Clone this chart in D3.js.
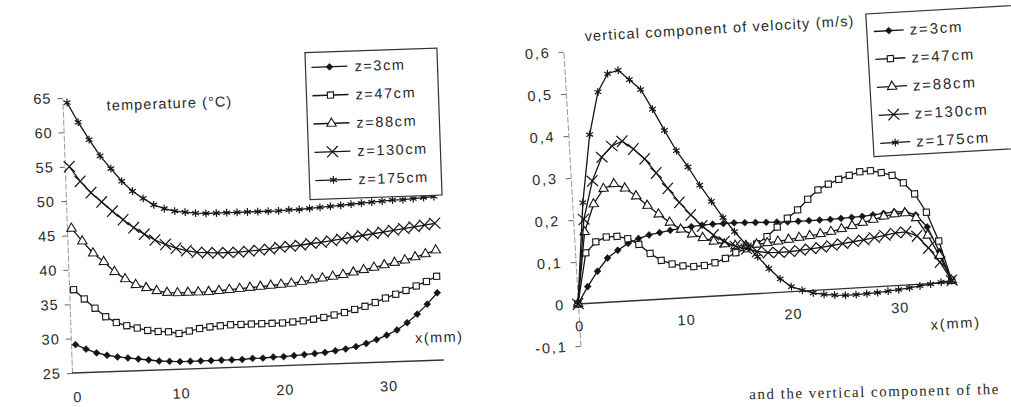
<!DOCTYPE html>
<html>
<head>
<meta charset="utf-8">
<script src="https://cdn.jsdelivr.net/npm/d3@7"></script>
<style>
  body { margin: 0; background: #fff; }
  text { font-family: "Liberation Sans", Arial, sans-serif; fill: #2a2a2a; }
</style>
</head>
<body>
<svg id="fig" width="1011" height="407"></svg>
<script>
// distance from the wall, mm
var xMm = [0,1,2,3,4,5,6,7,8,9,10,11,12,13,14,15,16,17,18,19,20,21,22,23,24,25,26,27,28,29,30,31,32,33,34,35];

var seriesNames = ["z=3cm", "z=47cm", "z=88cm", "z=130cm", "z=175cm"];
var markerKinds = ["diamond", "square", "triangle", "times", "asterisk"];

// temperature (°C)
var tempZ3   = [29.1,28.4,27.8,27.4,27.1,26.9,26.7,26.5,26.3,26.2,26.1,26.1,26.1,26.1,26.1,26.1,26.1,26.2,26.2,26.3,26.3,26.4,26.5,26.6,26.7,26.9,27.1,27.4,27.8,28.3,28.9,29.6,30.6,31.8,33.2,34.8];
var tempZ47  = [37.1,35.7,34.3,33.0,32.1,31.6,31.2,30.8,30.6,30.5,30.2,30.5,30.8,31.0,31.1,31.2,31.2,31.2,31.2,31.2,31.2,31.3,31.4,31.6,31.8,32.1,32.4,32.8,33.2,33.7,34.3,34.8,35.3,35.9,36.5,37.2];
var tempZ88  = [46.0,44.1,42.3,41.0,39.5,38.4,37.5,37.0,36.5,36.2,36.1,36.1,36.1,36.1,36.2,36.3,36.4,36.5,36.6,36.7,36.8,36.9,37.1,37.3,37.5,37.7,37.9,38.2,38.5,38.8,39.1,39.4,39.7,40.1,40.5,41.0];
var tempZ130 = [55.0,52.8,51.1,49.7,48.3,47.0,45.8,44.8,43.9,43.2,42.6,42.2,41.9,41.8,41.7,41.7,41.7,41.8,41.9,42.0,42.2,42.3,42.4,42.6,42.7,42.9,43.1,43.3,43.5,43.7,43.9,44.1,44.3,44.5,44.7,44.9];
var tempZ175 = [64.3,61.4,58.8,56.4,54.5,52.6,51.1,50.0,49.0,48.4,48.0,47.8,47.6,47.5,47.5,47.5,47.5,47.5,47.5,47.5,47.5,47.6,47.6,47.7,47.8,47.9,48.0,48.1,48.2,48.3,48.4,48.5,48.5,48.6,48.7,48.8];

// vertical component of velocity (m/s)
var velZ3   = [0,0.040,0.075,0.105,0.122,0.137,0.147,0.154,0.158,0.162,0.166,0.168,0.170,0.171,0.171,0.171,0.170,0.169,0.168,0.167,0.166,0.166,0.166,0.166,0.166,0.167,0.168,0.169,0.171,0.173,0.175,0.174,0.165,0.135,0.075,0.005];
var velZ47  = [0,0.120,0.145,0.155,0.155,0.148,0.133,0.110,0.092,0.082,0.076,0.073,0.074,0.079,0.088,0.100,0.108,0.118,0.134,0.155,0.175,0.193,0.217,0.238,0.250,0.260,0.268,0.275,0.276,0.270,0.262,0.243,0.215,0.170,0.100,0.005];
var velZ88  = [0,0.170,0.235,0.270,0.280,0.268,0.248,0.224,0.202,0.181,0.163,0.150,0.140,0.130,0.122,0.117,0.115,0.117,0.119,0.121,0.124,0.127,0.130,0.133,0.137,0.142,0.148,0.154,0.160,0.166,0.170,0.171,0.158,0.115,0.065,0.005];
var velZ130 = [0,0.200,0.290,0.345,0.370,0.380,0.360,0.335,0.300,0.262,0.227,0.196,0.168,0.145,0.128,0.116,0.108,0.100,0.096,0.095,0.095,0.097,0.099,0.101,0.104,0.107,0.110,0.113,0.117,0.121,0.125,0.126,0.115,0.085,0.050,0.005];
var velZ175 = [0,0.240,0.400,0.500,0.542,0.549,0.525,0.500,0.452,0.400,0.350,0.310,0.265,0.225,0.185,0.150,0.118,0.088,0.058,0.032,0.012,0.002,-0.006,-0.011,-0.014,-0.016,-0.016,-0.015,-0.014,-0.012,-0.010,-0.007,-0.004,-0.001,0.002,0.004];

var tempTicks = [25,30,35,40,45,50,55,60,65];
var velTicks = [-0.1,0,0.1,0.2,0.3,0.4,0.5,0.6];
var velTickLabels = ["-0,1","0","0,1","0,2","0,3","0,4","0,5","0,6"];
var xTicks = [0,10,20,30];

var svg = d3.select("#fig");
var ink = "#151515";

var symbolTypes = {
  diamond: d3.symbolDiamond2, square: d3.symbolSquare, triangle: d3.symbolTriangle,
  times: d3.symbolTimes, asterisk: d3.symbolAsterisk
};
var symbolSizes = { diamond: 30, square: 38, triangle: 38, times: 80, asterisk: 42 };

function styleMarker(sel, kind) {
  if (kind == "diamond") sel.attr("fill", ink).attr("stroke", ink).attr("stroke-width", 0.6);
  else if (kind == "square" || kind == "triangle") sel.attr("fill", "#fff").attr("stroke", ink).attr("stroke-width", 1.1);
  else sel.attr("fill", "none").attr("stroke", ink).attr("stroke-width", 1.2);
}

function drawSeries(g, x, y, values, kind) {
  var pts = xMm.map(function(d, i) { return [d, values[i]]; });
  g.append("path")
    .attr("d", d3.line().x(function(d){ return x(d[0]); }).y(function(d){ return y(d[1]); })(pts))
    .attr("fill", "none").attr("stroke", ink).attr("stroke-width", 1.3);
  g.selectAll(null).data(pts).enter().append("path")
    .attr("transform", function(d){ return "translate(" + x(d[0]) + "," + y(d[1]) + ")"; })
    .attr("d", d3.symbol(symbolTypes[kind], symbolSizes[kind]))
    .call(styleMarker, kind);
}

function drawLegend(g, left, top, w, h, rowY, rowStep, lineX0, lineX1, textX, fontSize, spacing) {
  g.append("rect").attr("x", left).attr("y", top).attr("width", w).attr("height", h)
    .attr("fill", "#fff").attr("stroke", "#333").attr("stroke-width", 1.2);
  seriesNames.forEach(function(name, i) {
    var yy = rowY + i * rowStep;
    g.append("line").attr("x1", lineX0).attr("x2", lineX1).attr("y1", yy).attr("y2", yy)
      .attr("stroke", ink).attr("stroke-width", 1.3);
    g.append("path").attr("transform", "translate(" + ((lineX0 + lineX1) / 2) + "," + yy + ")")
      .attr("d", d3.symbol(symbolTypes[markerKinds[i]], symbolSizes[markerKinds[i]]))
      .call(styleMarker, markerKinds[i]);
    g.append("text").attr("x", textX).attr("y", yy).attr("dy", "0.36em")
      .style("font-size", fontSize + "px").style("letter-spacing", spacing + "px").text(name);
  });
}

// ---------- left: temperature ----------
var gT = svg.append("g").attr("transform", "translate(72,373) rotate(-2)");
var xT = d3.scaleLinear().domain([0, 35]).range([4.5, 367.8]);
var yT = d3.scaleLinear().domain([25, 65]).range([0, -275.2]);

var axT = gT.append("g").call(d3.axisLeft(yT).tickValues(tempTicks).tickSizeInner(5).tickSizeOuter(0).tickPadding(6));
axT.select(".domain").attr("stroke", "#999").attr("stroke-dasharray", "6,2");
axT.selectAll(".tick line").attr("stroke", "#666");
axT.selectAll("text").style("font-size", "14.5px").style("letter-spacing", "1px").attr("fill", "#2a2a2a");

gT.append("line").attr("x1", 0).attr("x2", 372).attr("y1", 0).attr("y2", 0)
  .attr("stroke", "#333").attr("stroke-width", 1.3);
var axTx = gT.append("g").call(d3.axisBottom(xT).tickValues(xTicks).tickSize(0).tickPadding(19));
axTx.select(".domain").remove();
axTx.selectAll("text").style("font-size", "14.5px").style("letter-spacing", "1px").attr("fill", "#2a2a2a");

[tempZ3, tempZ47, tempZ88, tempZ130, tempZ175].forEach(function(v, i) { drawSeries(gT, xT, yT, v, markerKinds[i]); });

gT.append("text").attr("x", 44).attr("y", -261).style("font-size", "14.5px").style("letter-spacing", "1.1px").text("temperature (°C)");
gT.append("text").attr("x", 344).attr("y", -18).style("font-size", "14.5px").style("letter-spacing", "1.5px").text("x(mm)");
drawLegend(gT, 244, -312, 132, 147, -297, 28.3, 250, 286, 293, 14.5, 1.6);

// ---------- right: vertical velocity ----------
var gV = svg.append("g").attr("transform", "translate(578,304) rotate(-3.3)");
var xV = d3.scaleLinear().domain([0, 35]).range([0, 374.5]);
var yV = d3.scaleLinear().domain([-0.1, 0.6]).range([42.1, -252.6]);

var axV = gV.append("g").call(d3.axisLeft(yV).tickValues(velTicks).tickSizeInner(5).tickSizeOuter(0).tickPadding(8)
  .tickFormat(function(d, i) { return velTickLabels[i]; }));
axV.select(".domain").attr("stroke", "#999").attr("stroke-dasharray", "6,2");
axV.selectAll(".tick line").attr("stroke", "#666");
axV.selectAll("text").style("font-size", "14.5px").style("letter-spacing", "1.8px").attr("fill", "#2a2a2a");

gV.append("line").attr("x1", 0).attr("x2", xV(35)).attr("y1", yV(0)).attr("y2", yV(0))
  .attr("stroke", "#333").attr("stroke-width", 1.3);
var axVx = gV.append("g").call(d3.axisBottom(xV).tickValues(xTicks).tickSize(0).tickPadding(17));
axVx.select(".domain").remove();
axVx.selectAll("text").style("font-size", "14.5px").style("letter-spacing", "1px").attr("fill", "#2a2a2a");

[velZ3, velZ47, velZ88, velZ130, velZ175].forEach(function(v, i) { drawSeries(gV, xV, yV, v, markerKinds[i]); });

gV.append("text").attr("x", 22).attr("y", -262).style("font-size", "14.5px").style("letter-spacing", "1.2px").text("vertical component of velocity (m/s)");
gV.append("text").attr("x", 351).attr("y", 46).style("font-size", "14.5px").style("letter-spacing", "1.8px").text("x(mm)");
drawLegend(gV, 304, -273, 175, 143, -255, 28, 311, 341, 347, 15, 1.8);

// caption fragment along the bottom edge
svg.append("text").attr("transform", "translate(1000,394) rotate(-1.2)")
  .attr("text-anchor", "end")
  .style("font-family", "'Liberation Serif', 'Times New Roman', serif")
  .style("font-size", "15px").style("letter-spacing", "1.5px").attr("fill", "#444")
  .text("and the vertical component of the");
</script>
</body>
</html>
